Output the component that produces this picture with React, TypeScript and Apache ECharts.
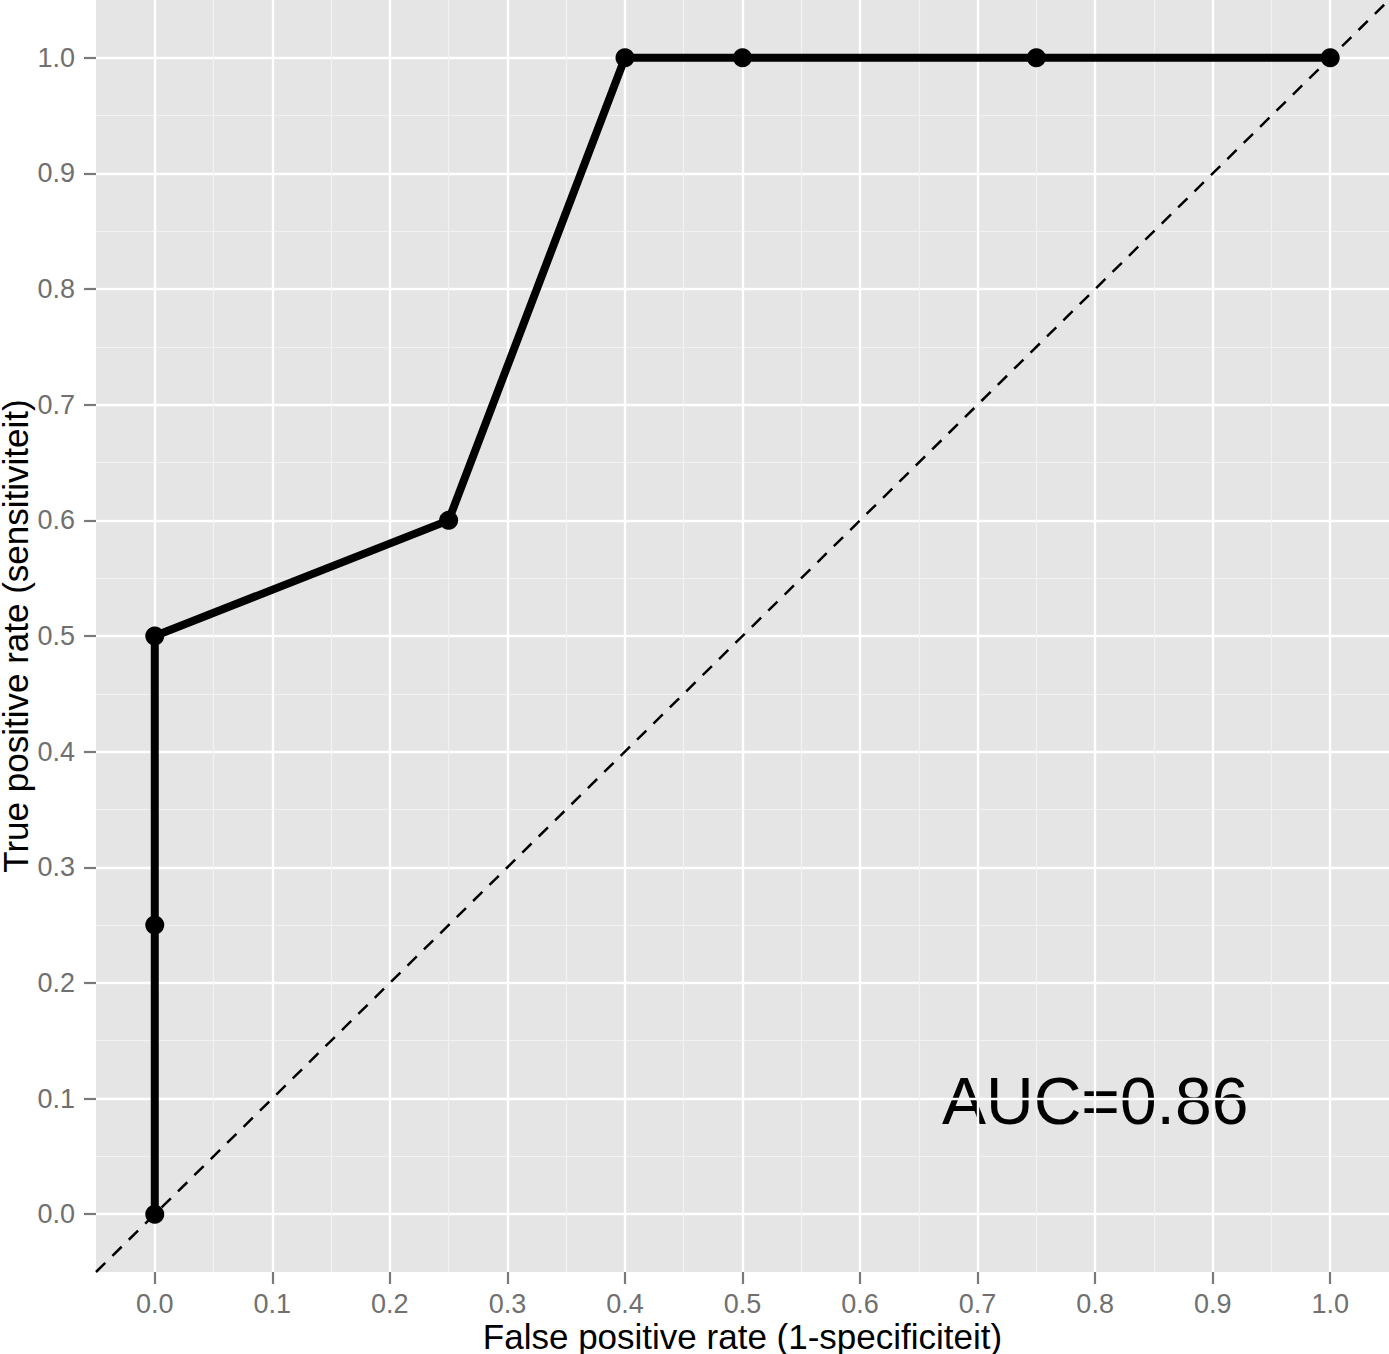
import React, { useEffect, useRef } from "react";
import * as echarts from "echarts";

const fpr = [0, 0, 0, 0.25, 0.4, 0.5, 0.75, 1];
const tpr = [0, 0.25, 0.5, 0.6, 1, 1, 1, 1];
const majorTicks = [0, 0.1, 0.2, 0.3, 0.4, 0.5, 0.6, 0.7, 0.8, 0.9, 1];
const minorTicks = [0.05, 0.15, 0.25, 0.35, 0.45, 0.55, 0.65, 0.75, 0.85, 0.95];
const diagonal = [-0.05, 1.05];
const aucLabel = "AUC=0.86";

const FONT = "'Liberation Sans', Arial, Helvetica, sans-serif";

const App: React.FC = () => {
  const chartRef = useRef<HTMLDivElement>(null);

  useEffect(() => {
    document.body.style.margin = "0";
    if (!chartRef.current) return;
    const chart = echarts.init(chartRef.current, undefined, { renderer: "svg" });

    const tickLabel = {
      color: "#707070",
      fontSize: 27,
      fontFamily: FONT,
      customValues: majorTicks,
      formatter: (v: number) => v.toFixed(1),
    };
    const tick = { show: true, length: 12, inside: false, customValues: majorTicks, lineStyle: { color: "#7a7a7a", width: 2.2 } };
    const major = { show: true, lineStyle: { color: "#ffffff", width: 2.4 } };
    const titleStyle = { color: "#000", fontSize: 35, lineHeight: 28, fontFamily: FONT };
    const minorAxis = (position: "bottom" | "left") => ({
      type: "value" as const,
      position,
      min: -0.05,
      max: 1.05,
      axisLine: { show: false },
      axisTick: { show: false, customValues: minorTicks },
      axisLabel: { show: false, customValues: minorTicks },
      splitLine: { show: true, lineStyle: { color: "#f2f2f2", width: 1.1 } },
    });

    const option: echarts.EChartsOption = {
      animation: false,
      grid: {
        left: 96,
        right: 0,
        top: 0,
        bottom: 82,
        show: true,
        backgroundColor: "#e5e5e5",
        borderWidth: 0,
        containLabel: false,
        outerBoundsMode: "none",
      } as any,
      xAxis: [
        minorAxis("bottom"),
        {
          type: "value",
          position: "bottom",
          min: -0.05,
          max: 1.05,
          axisLine: { show: false, onZero: false },
          axisTick: tick,
          axisLabel: { ...tickLabel, margin: 18 },
          splitLine: major,
          name: "False positive rate (1-specificiteit)",
          nameLocation: "middle",
          nameGap: 50,
          nameMoveOverlap: false,
          nameTextStyle: titleStyle,
        } as any,
      ],
      yAxis: [
        minorAxis("left"),
        {
          type: "value",
          position: "left",
          min: -0.05,
          max: 1.05,
          axisLine: { show: false, onZero: false },
          axisTick: tick,
          axisLabel: { ...tickLabel, margin: 21 },
          splitLine: major,
          name: "True positive rate (sensitiviteit)",
          nameLocation: "middle",
          nameGap: 67,
          nameMoveOverlap: false,
          nameTextStyle: titleStyle,
        } as any,
      ],
      series: [
        {
          type: "line",
          xAxisIndex: 1,
          yAxisIndex: 1,
          data: diagonal.map((v) => [v, v]),
          symbol: "none",
          silent: true,
          lineStyle: { color: "#000", width: 2.5, type: [13, 10] },
        },
        {
          type: "line",
          xAxisIndex: 1,
          yAxisIndex: 1,
          data: fpr.map((x, i) => [x, tpr[i]]),
          symbol: "circle",
          symbolSize: 19,
          itemStyle: { color: "#000" },
          lineStyle: { color: "#000", width: 8 },
        },
      ],
      graphic: [
        {
          type: "text",
          left: 942,
          top: 1068,
          style: {
            text: aucLabel,
            fontSize: 66,
            fontFamily: FONT,
            fill: "#000",
          },
        },
      ],
    };

    chart.setOption(option);
    return () => {
      chart.dispose();
    };
  }, []);

  return <div ref={chartRef} style={{ width: 1389, height: 1354 }} />;
};

export default App;
